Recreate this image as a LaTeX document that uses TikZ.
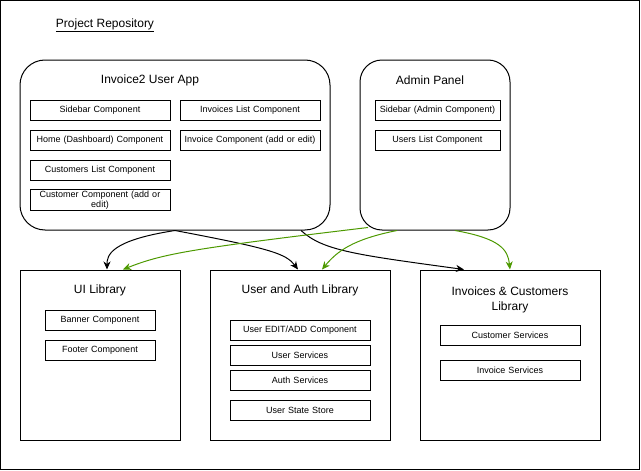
\documentclass[tikz,border=0pt]{standalone}
\usepackage{fontspec}
\setmainfont{Liberation Sans}
\usetikzlibrary{positioning,shapes,arrows,arrows.meta}
\definecolor{adminlink}{RGB}{77,153,0}

\begin{document}
\begin{tikzpicture}[x=1pt,y=-1pt,line width=1pt,
    comp/.style={draw, rectangle, minimum width=140pt, minimum height=20pt, inner sep=1pt,
        text width=132pt, align=center, font=\fontsize{9}{10}\selectfont},
    appbox/.style={draw, rectangle, rounded corners=#1, minimum height=170pt},
    libbox/.style={draw, rectangle, minimum height=170pt},
    title/.style={font=\fontsize{12}{15}\selectfont, align=center},
    dep/.style={-{Stealth[length=8pt,width=7pt,inset=2.5pt]}, line width=1pt},
    admindep/.style={dep, adminlink}]
    \useasboundingbox (0,0) rectangle (641,471);
    % repository frame
    \node[draw, rectangle, minimum width=639pt, minimum height=469pt] (repo) at (320,235) {};
    \node[title] (repotitle) at (105,25) {\underline{Project Repository}};

    % user app
    \node[appbox=25pt, minimum width=310pt] (app) at (175,145) {};
    \node[title] (apptitle) at (150,80) {Invoice2 User App};
    \node[comp] (sidebar) at (100,110) {Sidebar Component};
    \node[comp] (home) at (100,140) {Home (Dashboard) Component};
    \node[comp] (custlist) at (100,170) {Customers List Component};
    \node[comp] (cust) at (100,200) {Customer Component (add or\\edit)};
    \node[comp] (invlist) at (250,110) {Invoices List Component};
    \node[comp] (inv) at (250,140) {Invoice Component (add or edit)};

    % admin panel
    \node[appbox=22pt, minimum width=150pt] (admin) at (435,145) {};
    \node[title] (admintitle) at (430,80) {Admin Panel};
    \node[comp, minimum width=125pt, text width=120pt] (adminside) at (437.5,110) {Sidebar (Admin Component)};
    \node[comp, minimum width=125pt, text width=120pt] (userlist) at (437.5,140) {Users List Component};

    % libraries
    \node[libbox, minimum width=160pt] (ui) at (100,355) {};
    \node[title] (uititle) at (100,290) {UI Library};
    \node[comp, minimum width=110pt, text width=104pt] (banner) at (100,320) {Banner Component};
    \node[comp, minimum width=110pt, text width=104pt] (footer) at (100,350) {Footer Component};

    \node[libbox, minimum width=180pt] (auth) at (300,355) {};
    \node[title] (authtitle) at (300,290) {User and Auth Library};
    \node[comp] (useredit) at (300,330) {User EDIT/ADD Component};
    \node[comp] (usersvc) at (300,355) {User Services};
    \node[comp] (authsvc) at (300,380) {Auth Services};
    \node[comp] (store) at (300,410) {User State Store};

    \node[libbox, minimum width=180pt] (invlib) at (510,355) {};
    \node[title] (invlibtitle) at (510,300) {Invoices \& Customers\\Library};
    \node[comp] (custsvc) at (510,335) {Customer Services};
    \node[comp] (invsvc) at (510,370) {Invoice Services};

    % user app -> libraries
    \draw[dep] (app.south) .. controls +(-65,10) and +(0,-14) .. ([xshift=7pt]ui.north);
    \draw[dep] (app.south) .. controls +(95,18) and +(-12,-16) .. ([xshift=-2pt]auth.north);
    \draw[dep] ([xshift=126pt]app.south) .. controls +(22,20) and +(-110,-15) .. ([xshift=-46pt]invlib.north);

    % admin panel -> libraries
    \draw[admindep] ([xshift=-67pt,yshift=3pt]admin.south) .. controls +(-175,21) and +(40,-16) .. ([xshift=23pt]ui.north);
    \draw[admindep] ([xshift=-38pt]admin.south) .. controls +(-45,9) and +(15,-18) .. ([xshift=22pt]auth.north);
    \draw[admindep] ([xshift=20pt]admin.south) .. controls +(45,8) and +(-2,-20) .. (invlib.north);
\end{tikzpicture}
\end{document}
